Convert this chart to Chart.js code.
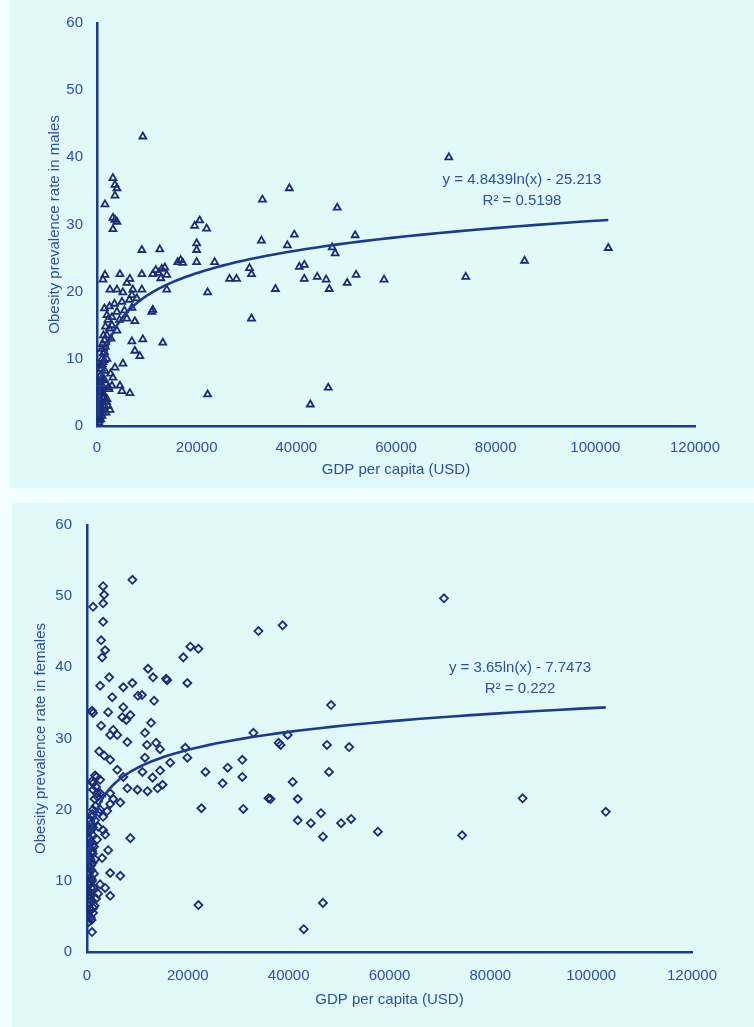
<!DOCTYPE html>
<html>
<head>
<meta charset="utf-8">
<script src="https://cdn.jsdelivr.net/npm/chart.js@4.4.1/dist/chart.umd.min.js"></script>
<style>
  html, body { margin:0; padding:0; background:#f3fefe; width:754px; height:1027px; overflow:hidden; }
  .panel { position:absolute; background:#e2f9f9; }
  canvas { position:absolute; left:0; }
</style>
</head>
<body>
<div class="panel" style="left:10px;top:0;width:744px;height:488px;"></div>
<div class="panel" style="left:12px;top:503px;width:742px;height:524px;"></div>
<canvas id="top" width="754" height="490" style="top:0;width:754px;height:490px;"></canvas>
<canvas id="bottom" width="754" height="537" style="top:490px;width:754px;height:537px;"></canvas>
<script>
// ---- DATA ----
const maleGdp = [70600,102600,85800,74000,57600,52000,50200,51800,48200,47800,47200,46600,46000,44200,41600,41600,40600,39600,38200,38600,35800,33200,33000,31000,30600,31000,28000,26600,23600,22200,22200,46400,42800,22000,20600,19600,20000,20000,20000,16200,16800,17200,12600,9000,9200,13200,9200,7000,7600,8600,11000,11200,14000,14000,13000,12400,11800,12800,13600,11200,9000,6600,4600,1600,1200,3200,3600,4000,3600,1600,3200,3600,3200,4000,2600,4000,5200,7200,9000,6000,7000,1500,2000,2500,3000,3500,4000,4500,5000,5500,6000,6500,7000,7600,8000,3000,2500,4000,2000,1500,1000,1500,2000,1200,3600,5200,3200,3000,4600,6600,2400,5000,300,400,500,600,700,800,900,1000,1100,1200,300,500,700,900,1000,1300,1500,1800,2000,400,600,800,1000,1400,1600,2200,2600,250,350,1100,1300,1700,2200,2800,600,200,450,350,550,750,950,1150,1350,650,850,1050,1250,1450,1650,1900,2300,2700];
const maleRate = [40,26.5,24.6,22.2,21.8,22.5,21.3,28.4,32.5,25.7,26.6,20.4,21.8,22.2,21.9,24,23.7,28.5,26.9,35.4,20.4,33.7,27.6,22.6,23.5,16,21.9,21.9,24.4,19.9,4.7,5.7,3.2,29.4,30.6,29.8,27.2,26.2,24.4,24.4,24.7,24.3,26.3,26.2,43.1,12.4,12.9,12.6,11.2,10.4,17,17.3,20.3,22.5,23.4,22.8,23.2,22,23.6,22.6,22.6,21.9,22.6,22.5,21.8,36.9,35.9,35.4,34.3,33,31,30.7,29.3,30.4,20.3,20.3,19.9,20.3,20.3,21.3,19.5,17.5,16.5,17.8,16.2,18.2,17,15.8,18.5,17.2,16,18.8,17.6,15.6,19,15,14.5,14.2,13.5,12.8,11.5,11,10,9.5,8.7,9.3,7.2,6,6,4.9,5.5,5.2,1,2,3,1.5,4,2.5,5,3.5,6,2,4.5,6.5,7.5,8.5,10,4.8,3,2,4,0.8,3.2,5.8,1.5,7,8.2,3,2.4,2.8,5.2,12.2,13.5,14.8,15.8,13,9,6,1.2,0.5,2.2,1,3.8,4.2,6.8,5.2,7,9.2,10.8,9.8,11.8,3.6,5.8,7.8];

const femaleGdp = [70800,38800,34000,48400,38400,39800,47600,52000,48000,40800,41800,36400,41800,44400,46400,46800,50400,52400,57700,74400,86400,102900,46800,43000,33000,38000,36000,30800,27900,26900,30800,23500,22700,31000,22100,19900,16500,19500,19100,20500,22100,19900,9000,3200,3400,1200,3200,3200,2800,3600,3000,12100,13100,15700,15900,4400,2600,7200,9000,5000,10100,10900,13300,1200,1000,4200,7200,8600,7000,7800,12700,2800,5200,6000,4600,11500,8000,13700,11900,14500,2400,3400,4600,6000,7200,11000,11500,1200,2600,1600,2000,2600,4600,8000,10000,12000,14000,15000,13000,14500,8600,4200,4600,6600,4600,1000,2600,6600,3200,4000,4600,5200,2200,3200,1600,3600,2000,3000,2600,3600,2200,1800,300,500,700,900,400,600,800,1000,300,500,700,900,1100,400,600,800,1000,1200,300,500,700,900,1100,400,600,800,1000,1200,1400,1600,1300,1500,200,1200,1000,1400,1500,1700,1200,1000,250,450,650,850,1050,350,550,750,950,1150,250,450,650,850,1050,1250,1800,2100,2400,1900];
const femaleRate = [49.7,45.9,45.1,34.7,29.1,30.5,29.1,28.8,25.3,23.9,21.5,21.5,18.5,18.1,19.5,16.2,18.1,18.7,16.9,16.4,21.6,19.7,6.9,3.2,30.8,29.4,21.6,27,25.9,23.7,24.6,25.3,20.2,20.1,6.6,27.3,26.6,28.7,41.4,42.9,42.6,37.8,52.3,51.4,50.2,48.5,49,46.4,43.8,42.4,41.4,39.8,38.6,38.4,38.2,38.6,37.4,37.2,37.8,35.8,36,36.1,35.3,33.6,33.9,33.7,34.4,33.3,33,32.6,32.2,31.8,31.2,30.5,30.5,30.8,29.5,29.4,29.1,28.5,28.2,27.6,27,25.6,24.6,25.3,27.3,23.7,24.2,24.8,22.3,22.3,22.3,23,22.8,22.6,23,23.5,24.5,25.5,16,14.3,11.1,10.7,7.9,2.8,20,21,19,19.8,20.8,21.5,17.6,17.1,18.5,16.5,15.8,13.2,9.5,9,8.2,7.5,4.2,5,6,4.5,7,8,9,10,11,12,13,14,15,16,17,18,19,20,6.5,9.5,10.5,11.5,12.5,13.5,14.5,15.5,16.5,17.5,11,13,9,6.5,8,5.5,7.2,14.8,21.5,20.5,22.8,24,5.5,7.5,9.8,12.2,14.2,16.8,18.5,4.8,10.2,13.8,8.6,11.8,15.2,17.2,19.4,6.2,23.2,21.8,19.6,24.6];

const xTicksMax = 120000, xStep = 20000;
const yTicksMax = 60, yStep = 10;

// Trendline coefficients as printed on the chart: y = a*ln(x) + b
const maleFit = { a: 4.8439, b: -25.213, from: 250, to: 102600 };
const femaleFit = { a: 3.65, b: -7.7473, from: 250, to: 102900 };
const maleEqText = ['y = 4.8439ln(x) - 25.213', 'R² = 0.5198'];
const femaleEqText = ['y = 3.65ln(x) - 7.7473', 'R² = 0.222'];

// ---- STYLE ----
const TEXT = '#2b4fa8';
const AXIS = '#1e3a8c';
const MARK = '#1a2d74';
const LINE = '#1d3a8e';
const FONT = "'Liberation Sans', Arial, sans-serif";

function pts(xs, ys) { return xs.map((x, i) => ({ x: x, y: ys[i] })); }
function fitCurve(fit) {
  const out = [];
  const n = 120;
  const l0 = Math.log(fit.from), l1 = Math.log(fit.to);
  for (let i = 0; i <= n; i++) {
    const x = Math.exp(l0 + (l1 - l0) * i / n);
    out.push({ x: x, y: fit.a * Math.log(x) + fit.b });
  }
  return out;
}

const eqPlugin = {
  id: 'eqText',
  afterDatasetsDraw(chart, args, opts) {
    const ctx = chart.ctx;
    ctx.save();
    ctx.fillStyle = TEXT;
    ctx.font = '15px ' + FONT;
    ctx.textAlign = 'center';
    ctx.textBaseline = 'middle';
    ctx.fillText(opts.lines[0], opts.x, opts.y);
    ctx.fillText(opts.lines[1], opts.x, opts.y + 21);
    ctx.restore();
  }
};

function makeChart(id, cfg) {
  return new Chart(document.getElementById(id), {
    type: 'scatter',
    data: {
      datasets: [
        {
          data: pts(cfg.gx, cfg.gy),
          pointStyle: cfg.style,
          pointRadius: 4,
          pointHoverRadius: 4,
          borderColor: MARK,
          backgroundColor: 'rgba(0,0,0,0)',
          pointBorderWidth: 1.8,
          order: 2
        },
        {
          type: 'line',
          data: fitCurve(cfg.fit),
          borderColor: LINE,
          borderWidth: 2.6,
          pointRadius: 0,
          tension: 0,
          fill: false,
          order: 1
        }
      ]
    },
    options: {
      responsive: false,
      animation: false,
      events: [],
      layout: { padding: cfg.pad },
      plugins: {
        legend: { display: false },
        tooltip: { enabled: false },
        eqText: { lines: cfg.eq, x: cfg.eqX, y: cfg.eqY }
      },
      scales: {
        x: {
          type: 'linear', min: 0, max: xTicksMax,
          ticks: { stepSize: xStep, color: TEXT, font: { family: FONT, size: 15 }, padding: cfg.xTickPad, maxRotation: 0, callback: v => String(v) },
          grid: { display: false, drawTicks: false },
          border: { display: true, color: AXIS, width: 2.5 },
          title: { display: true, text: 'GDP per capita (USD)', color: TEXT, font: { family: FONT, size: 15 }, padding: { top: 0, bottom: cfg.xTitlePad } },
          afterFit: s => { s.height = cfg.xH; }
        },
        y: {
          type: 'linear', min: 0, max: yTicksMax,
          ticks: { stepSize: yStep, color: TEXT, font: { family: FONT, size: 15 }, padding: cfg.yTickPad },
          grid: { display: false, drawTicks: false },
          border: { display: true, color: AXIS, width: 2.5 },
          title: { display: true, text: cfg.yTitle, color: TEXT, font: { family: FONT, size: 15 }, padding: { top: cfg.yTitlePad, bottom: 0 } },
          afterFit: s => { s.width = cfg.yW; }
        }
      }
    },
    plugins: [eqPlugin]
  });
}

makeChart('top', {
  gx: maleGdp, gy: maleRate, style: 'triangle', fit: maleFit,
  eq: maleEqText, eqX: 522, eqY: 180,
  pad: { left: 0, right: 59, top: 18, bottom: 0 },
  xH: 64, yW: 97, xTickPad: 13, yTickPad: 14, xTitlePad: 11, yTitlePad: 46,
  yTitle: 'Obesity prevalence rate in males'
});

makeChart('bottom', {
  gx: femaleGdp, gy: femaleRate, style: 'rectRot', fit: femaleFit,
  eq: femaleEqText, eqX: 520, eqY: 178,
  pad: { left: 0, right: 62, top: 35, bottom: 0 },
  xH: 75, yW: 87, xTickPad: 15, yTickPad: 15, xTitlePad: 18, yTitlePad: 32,
  yTitle: 'Obesity prevalence rate in females'
});
</script>
</body>
</html>
